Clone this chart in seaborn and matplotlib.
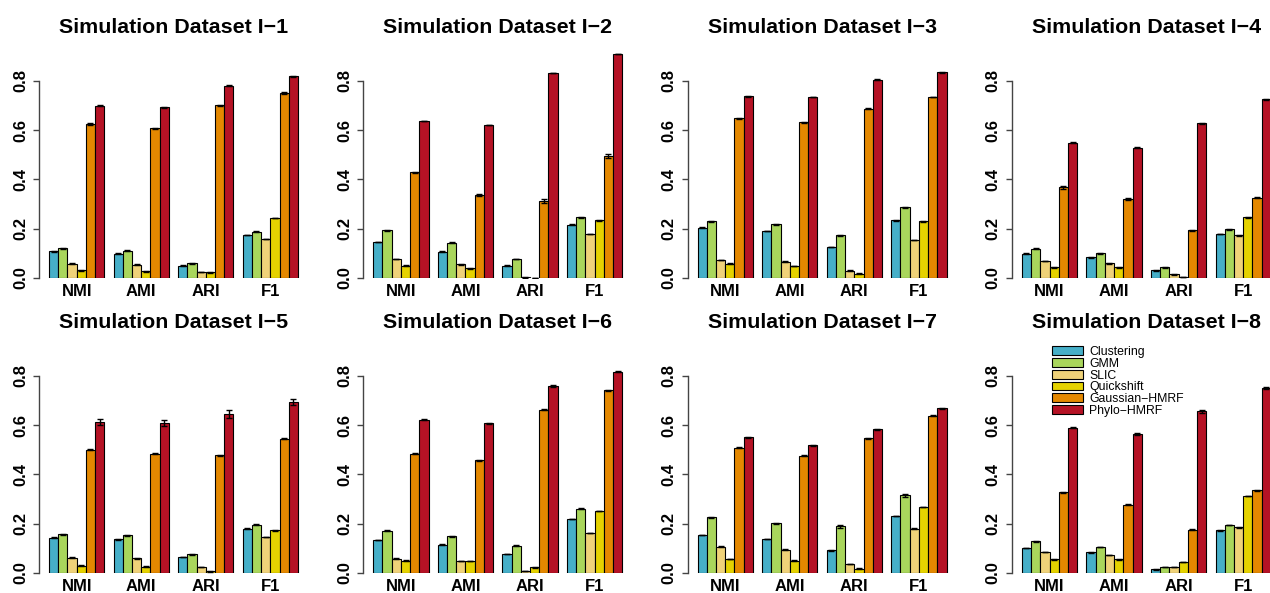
import matplotlib
matplotlib.use('Agg')
import matplotlib.pyplot as plt
import seaborn as sns
import pandas as pd

metrics = ['NMI', 'AMI', 'ARI', 'F1']
methods = ['Clustering', 'GMM', 'SLIC', 'Quickshift', 'Gaussian−HMRF', 'Phylo−HMRF']
colors = ['#46AFC8', '#A9D65C', '#EFD279', '#E5D200', '#E48800', '#B51225']
titles = ['Simulation Dataset I−%d' % i for i in range(1, 9)]

# rows = methods, cols = NMI, AMI, ARI, F1
scores_1 = [[0.108, 0.099, 0.050, 0.174], [0.120, 0.111, 0.059, 0.188], [0.058, 0.054, 0.024, 0.158],
            [0.031, 0.027, 0.023, 0.243], [0.625, 0.607, 0.700, 0.749], [0.698, 0.692, 0.780, 0.819]]
scores_2 = [[0.145, 0.107, 0.050, 0.216], [0.193, 0.142, 0.078, 0.246], [0.077, 0.055, 0.003, 0.178],
            [0.050, 0.039, 0.001, 0.234], [0.428, 0.337, 0.314, 0.494], [0.636, 0.621, 0.831, 0.908]]
scores_3 = [[0.204, 0.190, 0.126, 0.234], [0.231, 0.218, 0.173, 0.286], [0.072, 0.066, 0.030, 0.155],
            [0.058, 0.049, 0.018, 0.230], [0.648, 0.632, 0.687, 0.734], [0.737, 0.734, 0.803, 0.835]]
scores_4 = [[0.099, 0.084, 0.031, 0.178], [0.119, 0.100, 0.043, 0.197], [0.069, 0.059, 0.015, 0.173],
            [0.043, 0.043, 0.004, 0.246], [0.368, 0.320, 0.193, 0.325], [0.549, 0.529, 0.627, 0.724]]
scores_5 = [[0.143, 0.136, 0.065, 0.180], [0.157, 0.153, 0.076, 0.195], [0.062, 0.059, 0.024, 0.145],
            [0.030, 0.026, 0.007, 0.173], [0.499, 0.483, 0.477, 0.544], [0.612, 0.608, 0.645, 0.692]]
scores_6 = [[0.134, 0.115, 0.077, 0.218], [0.172, 0.149, 0.111, 0.261], [0.058, 0.049, 0.009, 0.162],
            [0.050, 0.049, 0.023, 0.251], [0.484, 0.457, 0.663, 0.742], [0.622, 0.608, 0.758, 0.817]]
scores_7 = [[0.155, 0.138, 0.092, 0.232], [0.226, 0.201, 0.189, 0.315], [0.107, 0.095, 0.036, 0.180],
            [0.057, 0.050, 0.018, 0.267], [0.508, 0.476, 0.546, 0.638], [0.551, 0.519, 0.583, 0.668]]
scores_8 = [[0.101, 0.084, 0.015, 0.173], [0.128, 0.105, 0.024, 0.195], [0.086, 0.072, 0.024, 0.185],
            [0.055, 0.055, 0.045, 0.313], [0.328, 0.276, 0.175, 0.336], [0.589, 0.562, 0.655, 0.751]]

# standard errors, same layout
sd_1 = [[0.001] * 4, [0.001] * 4, [0.001] * 4, [0.001] * 4, [0.003, 0.003, 0.003, 0.004], [0.002] * 4]
sd_2 = [[0.001] * 4, [0.002, 0.002, 0.001, 0.001], [0.001] * 4, [0.001] * 4,
        [0.003, 0.003, 0.008, 0.007], [0.001] * 4]
sd_3 = [[0.001] * 4, [0.002] * 4, [0.001] * 4, [0.001] * 4, [0.002] * 4, [0.002] * 4]
sd_4 = [[0.001] * 4, [0.001] * 4, [0.001] * 4, [0.001] * 4,
        [0.006, 0.004, 0.002, 0.002], [0.003, 0.002, 0.002, 0.002]]
sd_5 = [[0.001] * 4, [0.002] * 4, [0.001] * 4, [0.001] * 4, [0.002] * 4, [0.012, 0.012, 0.015, 0.012]]
sd_6 = [[0.001] * 4, [0.002] * 4, [0.001] * 4, [0.001] * 4, [0.002] * 4, [0.002, 0.002, 0.003, 0.002]]
sd_7 = [[0.001] * 4, [0.003, 0.003, 0.007, 0.007], [0.001] * 4, [0.001] * 4, [0.002] * 4, [0.002] * 4]
sd_8 = [[0.001] * 4, [0.001] * 4, [0.001] * 4, [0.001] * 4, [0.002] * 4, [0.003, 0.004, 0.005, 0.005]]

all_scores = [scores_1, scores_2, scores_3, scores_4, scores_5, scores_6, scores_7, scores_8]
all_sd = [sd_1, sd_2, sd_3, sd_4, sd_5, sd_6, sd_7, sd_8]

sns.set_theme(style='white')
plt.rcParams['font.family'] = ['Liberation Sans', 'DejaVu Sans']
plt.rcParams['text.color'] = 'black'
plt.rcParams['xtick.color'] = 'black'
plt.rcParams['ytick.color'] = 'black'

W, H = 1270, 593
fig = plt.figure(figsize=(W / 100, H / 100), dpi=100)

unit = 9.222          # px per bar
ymax = 0.95
ppu = 246.6           # px per 1.0 on y
for p in range(8):
    row, col = divmod(p, 4)
    left = 39 + 324.3 * col
    base = 278 + 295 * row
    ax = fig.add_axes([left / W, (H - base) / H, 29.16 * unit / W, ymax * ppu / H])

    df = pd.DataFrame([(metrics[j], methods[k], all_scores[p][k][j])
                       for k in range(6) for j in range(4)], columns=['metric', 'method', 'value'])
    sns.barplot(data=df, x='metric', y='value', hue='method', order=metrics, hue_order=methods,
                palette=colors, saturation=1, width=6 / 7, edgecolor='black', linewidth=0.8,
                errorbar=None, legend=False, ax=ax)
    bar_groups = list(ax.containers[:6])

    # error bars on top of each bar
    xs, ys, es = [], [], []
    for k, cont in enumerate(bar_groups):
        for j, bar in enumerate(cont):
            xs.append(bar.get_x() + bar.get_width() / 2)
            ys.append(bar.get_height())
            es.append(all_sd[p][k][j])
    ax.errorbar(xs, ys, yerr=es, fmt='none', ecolor='black', elinewidth=1, capsize=2.5, capthick=1)

    ax.set_xlim(-0.583, 3.583)
    ax.set_ylim(0, ymax)
    ax.set_xlabel('')
    ax.set_ylabel('')
    ax.set_yticks([0, 0.2, 0.4, 0.6, 0.8])
    ax.set_yticklabels(['0.0', '0.2', '0.4', '0.6', '0.8'], rotation=90, va='center',
                       fontsize=12, fontweight='bold', color='black')
    ax.set_xticks(range(4))
    ax.set_xticklabels(metrics, fontsize=12, fontweight='bold', color='black')
    ax.tick_params(axis='x', length=0, pad=4)
    ax.tick_params(axis='y', length=4, width=1, color='#444444', pad=4, direction='out', left=True)
    for s in ['top', 'right', 'bottom']:
        ax.spines[s].set_visible(False)
    ax.spines['left'].set_bounds(0, 0.8)
    ax.spines['left'].set_color('#444444')
    ax.spines['left'].set_linewidth(1)
    ax.set_title(titles[p], fontsize=15.4, fontweight='bold', pad=8, color='black')

    if p == 7:
        handles = [c.patches[0] for c in bar_groups]
        leg = ax.legend(handles, methods, loc='upper left', bbox_to_anchor=(1052 / W, (H - 346) / H),
                        bbox_transform=fig.transFigure, frameon=False, fontsize=8.8,
                        handlelength=2.5, handleheight=0.7, handletextpad=0.55,
                        labelspacing=-0.02, borderpad=0, borderaxespad=0)
        for t in leg.get_texts():
            t.set_color('black')

fig.savefig('out.png', dpi=100)
